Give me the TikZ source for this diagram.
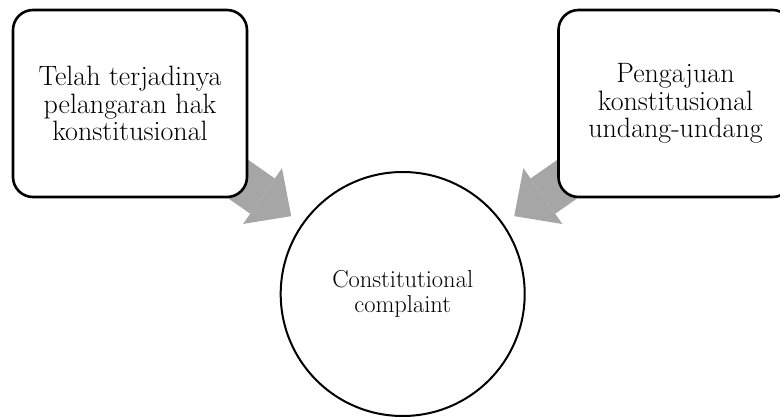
\documentclass[tikz,border=0pt]{standalone}
\usetikzlibrary{arrows.meta}
\pgfdeclarelayer{background}
\pgfsetlayers{background,main}
\definecolor{arrowgray}{RGB}{166,166,166}
\tikzset{
  boxnode/.style={draw=black, fill=white, line width=2.6pt, rounded corners=20pt,
    minimum width=234pt, minimum height=187pt, align=center, inner sep=0pt,
    font=\fontsize{28}{27.5}\selectfont},
  circnode/.style={draw=black, fill=white, circle, line width=2pt, minimum size=244pt,
    inner sep=0pt, align=center, font=\fontsize{24.5}{25}\selectfont},
  blockarrow/.style={draw=arrowgray, line width=43pt, shorten >=13pt,
    -{Triangle[length=35pt, width=68pt, line width=0pt, fill=arrowgray]}}
}
\begin{document}
\begin{tikzpicture}[x=1pt, y=-1pt]
\useasboundingbox (0,0) rectangle (780,416);
\node[boxnode] (L) at (130,103.5) {Telah terjadinya\\pelangaran hak\\konstitusional};
\node[boxnode] (R) at (675.5,103.5) {Pengajuan\\konstitusional\\undang-undang};
\node[circnode] (C) at (402.7,294) {Constitutional\\complaint};
\begin{pgfonlayer}{background}
\draw[blockarrow] (L.center) -- (C);
\draw[blockarrow] (R.center) -- (C);
\end{pgfonlayer}
\end{tikzpicture}
\end{document}
